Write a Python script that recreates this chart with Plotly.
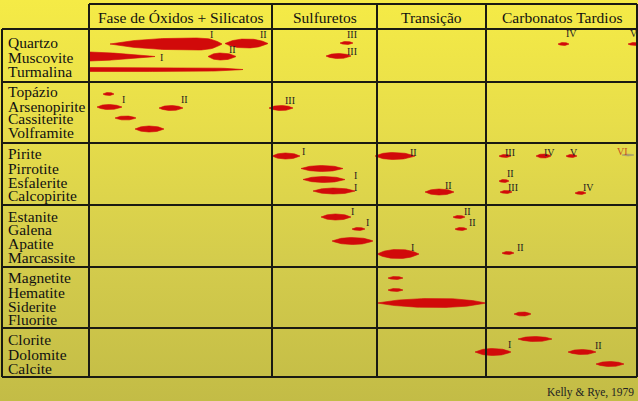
import numpy as np
import plotly.graph_objects as go

# ---------------- data ----------------
stages = ["Fase de Óxidos + Silicatos", "Sulfuretos", "Transição", "Carbonatos Tardios"]
stage_bounds = [89, 272, 377, 486, 637]          # time-axis limits of each stage
group_bounds = [29, 82, 143, 205, 267, 328, 377]  # limits of mineral groups

minerals = ["Quartzo", "Muscovite", "Turmalina",
            "Topázio", "Arsenopirite", "Cassiterite", "Volframite",
            "Pirite", "Pirrotite", "Esfalerite", "Calcopirite",
            "Estanite", "Galena", "Apatite", "Marcassite",
            "Magnetite", "Hematite", "Siderite", "Fluorite",
            "Clorite", "Dolomite", "Calcite"]
mineral_row = [42, 57, 71,
               91, 106, 118, 132,
               153, 168, 182, 195,
               216, 229, 243, 257,
               277, 292, 306, 319,
               339, 354, 368]

# lenses (periods of deposition)
lens_mineral = ["Quartzo", "Quartzo", "Muscovite", "Muscovite", "Turmalina",
                "Topázio", "Arsenopirite", "Arsenopirite", "Cassiterite", "Volframite",
                "Quartzo", "Muscovite", "Arsenopirite", "Quartzo", "Quartzo",
                "Pirite", "Pirrotite", "Esfalerite", "Calcopirite",
                "Estanite", "Galena", "Apatite",
                "Pirite", "Calcopirite", "Estanite", "Galena", "Marcassite",
                "Magnetite", "Hematite", "Siderite",
                "Pirite", "Pirite", "Pirite", "Esfalerite", "Calcopirite", "Calcopirite",
                "Marcassite", "Fluorite", "Clorite", "Dolomite", "Dolomite", "Calcite"]
lens_y = [44, 43.5, 56.5, 56.5, 69.5,
          94, 107, 108, 118, 129,
          43, 56, 108, 44, 44,
          156, 168.5, 179.5, 191,
          217, 229, 241,
          156, 192, 217, 229, 254,
          278, 290, 303,
          156, 156, 156, 181, 192, 193,
          253, 314, 339, 352, 352, 364]
lens_start = [110, 225, 90, 208, 90,
              103, 97, 159, 115, 135,
              340, 326, 269, 558, 628,
              272, 301, 303, 313,
              321, 352, 332,
              375, 425, 453, 455, 377,
              388, 388, 377,
              499, 536, 566, 499, 500, 575,
              502, 514, 518, 475, 568, 596]
lens_end = [222, 268, 155, 236, 243,
            114, 122, 183, 136, 164,
            353, 351, 293, 569, 642,
            300, 343, 345, 355,
            351, 365, 373,
            415, 454, 465, 467, 419,
            403, 403, 486,
            511, 551, 577, 509, 512, 586,
            514, 531, 552, 511, 596, 624]
lens_peak = [0.78, 0.5, 0.0, 0.45, 0.0,
             0.5, 0.45, 0.5, 0.5, 0.5,
             0.5, 0.5, 0.5, 0.5, 0.5,
             0.5, 0.5, 0.5, 0.5,
             0.5, 0.5, 0.5,
             0.45, 0.5, 0.5, 0.5, 0.5,
             0.5, 0.5, 0.55,
             0.5, 0.5, 0.5, 0.5, 0.5, 0.5,
             0.5, 0.5, 0.5, 0.5, 0.5, 0.5]
lens_width = [12, 9, 9, 7, 4,
              3, 5, 5, 4, 6,
              3, 5, 5, 3, 3,
              6, 6, 6, 6,
              6, 3, 7,
              7, 6, 3, 3, 9,
              3, 3, 9,
              3, 4, 3, 3, 3, 3,
              3, 4, 5, 7, 5, 5]

# uncertain (grey) lens
grey_start, grey_end, grey_y, grey_width = 622, 634, 155, 2

# stage numerals
num_text = ["I", "II", "I", "II", "I", "II", "III", "III", "III", "IV", "V",
            "I", "I", "I", "I", "I", "II", "II", "II", "II", "I",
            "III", "IV", "V", "II", "III", "IV", "II", "I", "II", "VI"]
num_x = [211, 263, 161, 232, 123, 184, 352, 352, 290, 571, 634,
         303, 355, 355, 352, 367, 413, 448, 467, 472, 412,
         510, 549, 574, 510, 513, 588, 520, 509, 598, 622]
num_y = [34, 34, 57, 49, 99, 99, 34, 51, 100, 33, 33,
         151, 175, 187, 211, 222, 152, 185, 211, 222, 247,
         152, 152, 152, 173, 187, 187, 247, 344, 345, 151]

source = "Kelly & Rye, 1979"

# ---------------- figure ----------------
W, H = 638, 401
SERIF = "Liberation Serif, Times New Roman, serif"
RED = "#d10a0a"


def lens_shape(x0, x1, yc, w, p, k=2.4, n=50):
    t = np.linspace(0, 1, n)
    if p <= 0:
        u = 1 - t
    else:
        u = np.where(t < p, t / p, (1 - t) / (1 - p))
    h = w / 2 * (1 - (1 - u) ** k)
    xs = x0 + t * (x1 - x0)
    return list(xs) + list(xs[::-1]), list(yc - h) + list((yc + h)[::-1])


fig = go.Figure()

# background gradient
fig.add_trace(go.Scatter(
    x=[0, W, W, 0, 0], y=[0, 0, H, H, 0], mode="lines", fill="toself",
    line=dict(width=0),
    fillgradient=dict(type="vertical", start=0, stop=H,
                      colorscale=[[0, "rgb(245,235,70)"], [0.3, "rgb(232,222,74)"],
                                  [0.65, "rgb(212,204,76)"], [1, "rgb(195,188,70)"]]),
    hoverinfo="skip", showlegend=False))

exps = {0: 2.6, 2: 1.4, 4: 7}
X, Y = [], []
for i in range(len(lens_start)):
    k = exps.get(i, 2.4)
    xs, ys = lens_shape(lens_start[i], lens_end[i], lens_y[i], lens_width[i], lens_peak[i], k)
    X += xs + [None]
    Y += ys + [None]
fig.add_trace(go.Scatter(x=X, y=Y, mode="lines", fill="toself", fillcolor=RED,
                         line=dict(color=RED, width=0.6), hoverinfo="skip", showlegend=False))

gx, gy = lens_shape(grey_start, grey_end, grey_y, grey_width, 0.5)
fig.add_trace(go.Scatter(x=gx, y=gy, mode="lines", fill="toself", fillcolor="rgb(165,158,110)",
                         line=dict(color="rgb(165,158,110)", width=0.6), hoverinfo="skip",
                         showlegend=False))

LC = "#1a1a12"
shapes = []
# header box
shapes.append(dict(type="line", x0=stage_bounds[0], x1=stage_bounds[-1], y0=4, y1=4))
# vertical stage lines
for b in stage_bounds:
    shapes.append(dict(type="line", x0=b, x1=b, y0=4, y1=group_bounds[-1]))
shapes.append(dict(type="line", x0=2, x1=2, y0=group_bounds[0], y1=group_bounds[-1]))
for g in group_bounds:
    shapes.append(dict(type="line", x0=2, x1=stage_bounds[-1], y0=g, y1=g))
for s in shapes:
    s.update(xref="x", yref="y", line=dict(color=LC, width=2))
fig.update_layout(shapes=shapes)

ann = []
for i, s in enumerate(stages):
    ann.append(dict(x=(stage_bounds[i] + stage_bounds[i + 1]) / 2, y=17, text=s,
                    font=dict(family=SERIF, size=15.5, color="#111"),
                    xanchor="center", yanchor="middle"))
for m, yy in zip(minerals, mineral_row):
    ann.append(dict(x=6, y=yy, text=m, font=dict(family=SERIF, size=15.5, color="#111"),
                    xanchor="left", yanchor="middle"))
for t, xx, yy in zip(num_text, num_x, num_y):
    col = "#c8501e" if t == "VI" else "#222"
    ann.append(dict(x=xx, y=yy, text=t, font=dict(family=SERIF, size=10, color=col),
                    xanchor="center", yanchor="middle"))
ann.append(dict(x=636, y=392, text=source, font=dict(family=SERIF, size=11.5, color="#222"),
                xanchor="right", yanchor="middle"))
for a in ann:
    a.update(xref="x", yref="y", showarrow=False)
fig.update_layout(annotations=ann)

fig.update_layout(
    width=W, height=H, margin=dict(l=0, r=0, t=0, b=0),
    paper_bgcolor="rgb(220,212,76)", plot_bgcolor="rgba(0,0,0,0)",
    xaxis=dict(range=[0, W], visible=False, fixedrange=True),
    yaxis=dict(range=[H, 0], visible=False, fixedrange=True),
    showlegend=False)

fig.write_html("out.html")
